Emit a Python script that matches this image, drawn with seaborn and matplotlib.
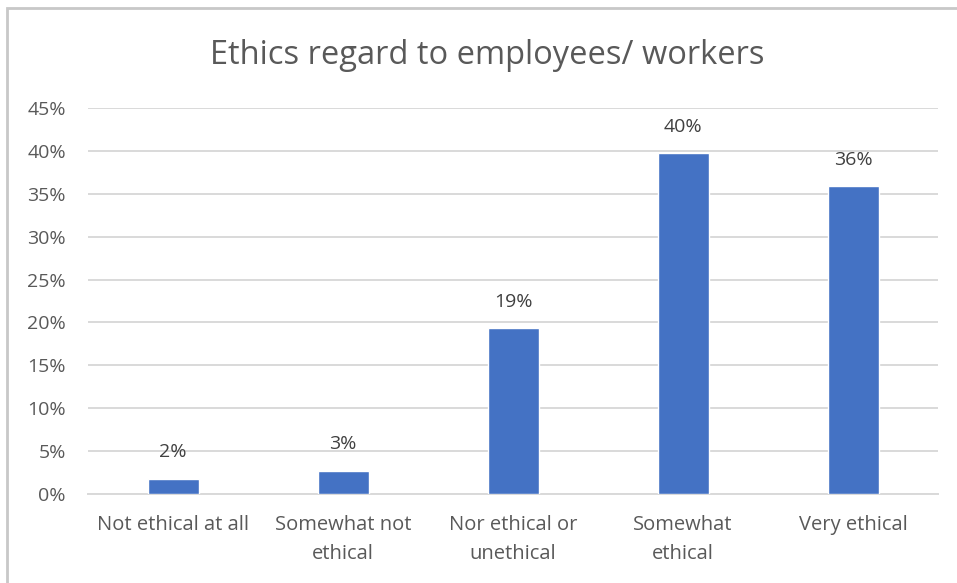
import matplotlib
matplotlib.use("Agg")
import matplotlib.pyplot as plt
import seaborn as sns
import pandas as pd
from matplotlib.patches import Rectangle

# Survey responses: share of respondents per rating
categories = ["Not ethical at all", "Somewhat not ethical", "Nor ethical or unethical",
              "Somewhat ethical", "Very ethical"]
tick_labels = ["Not ethical at all", "Somewhat not\nethical", "Nor ethical or\nunethical",
               "Somewhat\nethical", "Very ethical"]
shares = [1.8, 2.7, 19.35, 39.7, 35.9]
y_ticks = [0, 5, 10, 15, 20, 25, 30, 35, 40, 45]

sns.set_theme(style="white")
plt.rcParams["font.family"] = ["Open Sans", "DejaVu Sans"]

W, H = 957, 583
fig = plt.figure(figsize=(W / 100, H / 100), dpi=100)
fig.patch.set_facecolor("white")

# chart frame
fig.add_artist(Rectangle((7 / W, -0.05), 1.2, 1 - 8 / H + 0.05, transform=fig.transFigure,
                         fill=False, edgecolor="#c8c8c8", linewidth=2))

ax = fig.add_axes([88 / W, (H - 494) / H, (938 - 88) / W, (494 - 108) / H])

df = pd.DataFrame({"category": categories, "share": shares})
sns.barplot(data=df, x="category", y="share", color="#4472C4", width=0.3,
            saturation=1, ax=ax, zorder=3)

ax.set_ylim(0, 45)
ax.set_xlim(-0.5, len(categories) - 0.5)
ax.set_yticks(y_ticks)
ax.set_yticklabels([f"{t}%" for t in y_ticks])
ax.set_xticks(range(len(categories)))
ax.set_xticklabels(tick_labels, linespacing=1.6)
ax.set_xlabel("")
ax.set_ylabel("")

text_color = "#595959"
ax.tick_params(axis="both", length=0, labelsize=14, colors=text_color)
ax.tick_params(axis="x", labelsize=14.5, pad=15)
ax.tick_params(axis="y", pad=16)
for lbl in ax.get_yticklabels():
    lbl.set_horizontalalignment("right")

ax.yaxis.grid(True, color="#d9d9d9", linewidth=1.4, zorder=0)
ax.set_axisbelow(True)
for s in ["top", "right", "left"]:
    ax.spines[s].set_visible(False)
ax.spines["bottom"].set_color("#d9d9d9")
ax.spines["bottom"].set_linewidth(1.4)

for patch, v in zip(ax.patches, shares):
    ax.annotate(f"{v:.0f}%", (patch.get_x() + patch.get_width() / 2, patch.get_height()),
                xytext=(0, 12.5), textcoords="offset points", ha="center", va="bottom",
                fontsize=14, color="#404040")

fig.text(487 / W, 1 - 55 / H, "Ethics regard to employees/ workers", ha="center", va="center",
         fontsize=23.5, color=text_color)

fig.savefig("out.png", dpi=100, facecolor="white")
